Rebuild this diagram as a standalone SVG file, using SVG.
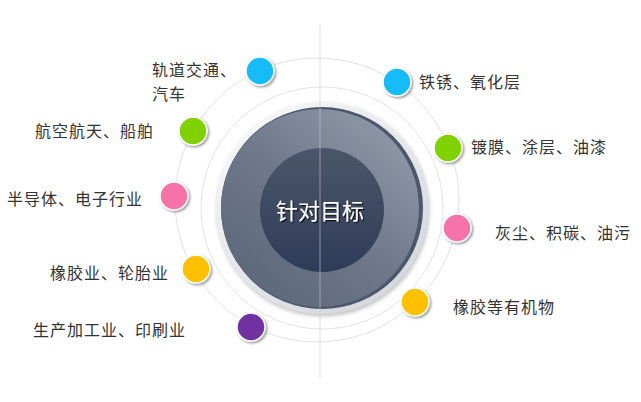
<svg xmlns="http://www.w3.org/2000/svg" width="641" height="402" viewBox="0 0 641 402">
<defs>
<linearGradient id="gOuter" x1="0.85" y1="0.1" x2="0.15" y2="0.9">
<stop offset="0" stop-color="#8e97a8"/>
<stop offset="0.5" stop-color="#6f798b"/>
<stop offset="1" stop-color="#5e687b"/>
</linearGradient>
<linearGradient id="gInner" x1="0" y1="0" x2="0" y2="1">
<stop offset="0" stop-color="#4c566a"/>
<stop offset="1" stop-color="#2f3c58"/>
</linearGradient>
<linearGradient id="gRing" x1="0.2" y1="0.1" x2="0.8" y2="0.9">
<stop offset="0" stop-color="#f4f5f7"/>
<stop offset="1" stop-color="#d5d8dd"/>
</linearGradient>
<filter id="sh" x="-30%" y="-30%" width="160%" height="160%">
<feDropShadow dx="1.5" dy="1.5" stdDeviation="0.8" flood-color="#555" flood-opacity="0.6"/>
</filter>
<filter id="bigsh" x="-20%" y="-20%" width="140%" height="140%">
<feDropShadow dx="1" dy="2" stdDeviation="2" flood-color="#777" flood-opacity="0.5"/>
</filter>
<filter id="tsh" x="-20%" y="-40%" width="140%" height="180%">
<feDropShadow dx="1.2" dy="1.2" stdDeviation="0.6" flood-color="#000" flood-opacity="0.8"/>
</filter>
</defs>
<style>
.lbl{font-family:"Noto Sans CJK SC","Liberation Sans",sans-serif;font-size:16px;fill:#333;letter-spacing:1px}
.dot{stroke:#fff;stroke-width:1.5;filter:url(#sh)}
.ring{fill:none;stroke:#e3e3e3;stroke-width:1}
</style>
<rect width="641" height="402" fill="#fff"/>
<g id="connectors">
<circle class="ring" cx="317" cy="200" r="142"/>
<circle class="ring" cx="322" cy="208" r="121"/>
</g>
<g id="center">
<circle cx="322" cy="208" r="106" fill="url(#gRing)" filter="url(#bigsh)"/>
<circle cx="322" cy="208" r="101" fill="#4d576b"/>
<circle cx="320" cy="208" r="99" fill="url(#gOuter)"/>
<circle cx="322" cy="210" r="62" fill="url(#gInner)"/>
<text x="320" y="219" text-anchor="middle" font-family="Noto Sans CJK SC, Liberation Sans, sans-serif" font-size="22" fill="#fff" filter="url(#tsh)">针对目标</text>
</g>
<line x1="320" y1="25" x2="320" y2="378" stroke="#c8c8c8" stroke-width="1" opacity="0.6"/>
<g id="n1"><circle class="dot" cx="260" cy="71" r="14" fill="#17bcf8"/><text class="lbl" x="152" y="76">轨道交通、</text><text class="lbl" x="152" y="100">汽车</text></g>
<g id="n2"><circle class="dot" cx="193" cy="131" r="14" fill="#7fd100"/><text class="lbl" x="35" y="137">航空航天、船舶</text></g>
<g id="n3"><circle class="dot" cx="174" cy="196" r="14" fill="#f672a8"/><text class="lbl" x="7" y="205">半导体、电子行业</text></g>
<g id="n4"><circle class="dot" cx="196" cy="269" r="14" fill="#ffc000"/><text class="lbl" x="50" y="279">橡胶业、轮胎业</text></g>
<g id="n5"><circle class="dot" cx="251" cy="327" r="14" fill="#7030a0"/><text class="lbl" x="33" y="336">生产加工业、印刷业</text></g>
<g id="n6"><circle class="dot" cx="397" cy="82" r="14" fill="#17bcf8"/><text class="lbl" x="419" y="88">铁锈、氧化层</text></g>
<g id="n7"><circle class="dot" cx="448" cy="148" r="14" fill="#7fd100"/><text class="lbl" x="471" y="153">镀膜、涂层、油漆</text></g>
<g id="n8"><circle class="dot" cx="457" cy="228" r="14" fill="#f672a8"/><text class="lbl" x="495" y="239">灰尘、积碳、油污</text></g>
<g id="n9"><circle class="dot" cx="415" cy="302" r="14" fill="#ffc000"/><text class="lbl" x="453" y="313">橡胶等有机物</text></g>
</svg>
